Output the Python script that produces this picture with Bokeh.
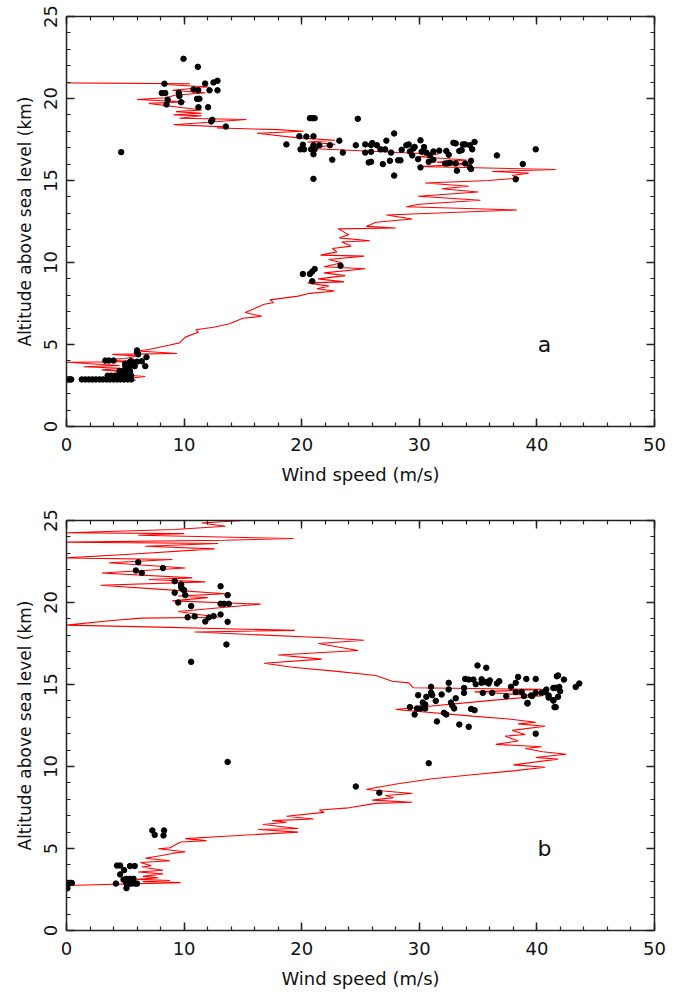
from bokeh.plotting import figure
from bokeh.layouts import column
from bokeh.models import LinearAxis, SingleIntervalTicker, Range1d, CustomJSTickFormatter
from bokeh.core.properties import value
from bokeh.embed import file_html
from bokeh.resources import INLINE

# ---------------- data ----------------
x_label = "Wind speed (m/s)"
y_label = "Altitude above sea level (km)"
panel_tags = ["a", "b"]

# panel a: sounding profile (wind speed m/s, altitude km)
a_line_speed = [2.2, 5.9, 4.8, 6.7, 3.6, 5.4, 3.0, 4.6, 1.45, 4.5, 0.0, 5.5, 3.2, 5.0, 6.0, 3.9, 9.4, 6.1, 7.0, 8.7,
                9.6, 10.1, 11.2, 11.0, 12.5, 13.8, 15.0, 16.6, 15.2, 16.0, 16.8, 17.6, 17.3, 19.7, 20.7, 22.8, 21.3, 22.3, 20.5, 23.6,
                21.4, 23.7, 21.9, 25.4, 21.9, 23.4, 22.3, 25.3, 21.6, 23.0, 22.6, 24.2, 23.4, 25.8, 23.2, 24.0, 23.1, 28.0, 25.5, 26.3,
                29.4, 27.2, 38.3, 28.9, 30.0, 35.2, 29.9, 35.0, 31.9, 34.2, 30.5, 35.9, 38.5, 37.9, 39.3, 36.2, 41.6, 29.9, 34.5, 31.5,
                34.0, 30.0, 31.6, 20.7, 22.85, 20.5, 22.85, 19.7, 16.2, 20.15, 18.0, 12.8, 13.5, 9.1, 15.3, 9.6, 11.5, 9.1, 11.5, 9.3,
                11.5, 9.2, 7.0, 10.1, 6.0, 8.5, 9.2, 11.8, 9.0, 12.1, 8.4, 10.5, 0.0, 0.0]
a_line_alt = [2.82, 2.82, 2.9, 3.05, 3.2, 3.33, 3.45, 3.55, 3.64, 3.72, 3.92, 3.95, 4.08, 4.15, 4.3, 4.4, 4.45, 4.6, 4.7, 4.95,
              5.1, 5.45, 5.75, 5.9, 6.05, 6.25, 6.6, 6.72, 6.95, 7.2, 7.45, 7.55, 7.72, 7.95, 8.12, 8.26, 8.4, 8.56, 8.76, 8.82,
              9.0, 9.2, 9.37, 9.62, 9.74, 9.98, 10.18, 10.39, 10.45, 10.65, 10.85, 11.0, 11.25, 11.33, 11.5, 11.7, 12.05, 12.1, 12.2, 12.45,
              12.65, 12.9, 13.2, 13.4, 13.55, 13.8, 14.04, 14.3, 14.5, 14.65, 14.85, 15.0, 15.15, 15.3, 15.45, 15.55, 15.67, 15.85, 16.0, 16.12,
              16.25, 16.45, 16.6, 16.95, 17.2, 17.35, 17.45, 17.6, 17.88, 18.0, 18.1, 18.2, 18.27, 18.4, 18.72, 18.8, 18.95, 19.0, 19.1, 19.2,
              19.3, 19.5, 19.7, 19.8, 19.94, 20.05, 20.2, 20.35, 20.5, 20.7, 20.85, 20.9, 20.95, 24.2]

# panel a: dots
a_dot_speed = [9.95, 11.17, 8.33, 11.79, 12.5, 12.84, 8.1, 8.4, 10.8, 11.2, 12.16, 12.84, 9.55, 9.6, 11.1, 11.3, 8.6, 9.75, 11.22, 12.04,
               8.5, 12.4, 12.3, 13.55, 4.65,
               18.7, 19.8, 20.1, 19.9, 20.2, 20.7, 20.9, 21.1, 20.4, 21.0, 21.0, 20.8, 21.1, 21.0, 21.5, 21.0, 22.4, 22.6, 23.2, 24.77,
               23.5, 24.6, 25.4, 26.0, 25.9, 26.4, 25.4, 25.9, 25.7, 25.9, 26.9, 26.7, 27.1, 27.2, 27.6, 27.5, 27.86, 27.86, 28.2, 28.4,
               28.5, 28.9, 29.1, 29.2, 29.4, 29.5, 29.6, 29.9, 30.1, 30.1, 30.2, 30.4, 30.6, 30.8, 30.9, 31.2, 31.2, 31.7, 32.2, 32.4,
               32.3, 32.5, 32.6, 32.9, 33.1, 33.1, 33.2, 33.4, 33.6, 33.7, 33.9, 33.9, 34.3, 34.5, 34.4, 34.3, 34.4, 34.7, 36.6, 38.2,
               38.8, 39.9,
               20.1, 20.7, 20.9, 21.1, 20.9, 23.3,
               0.0, 0.15, 0.3, 0.4, 1.3, 1.6, 1.9, 2.2, 2.5, 2.8, 3.1, 3.4, 3.7, 4.0, 4.3, 4.6, 4.9, 5.2, 5.5,
               3.5, 3.8, 4.1, 4.4, 4.7, 5.0, 5.3, 5.5, 4.5, 4.8, 5.1, 5.4, 5.0, 5.4, 5.8, 6.7,
               3.3, 3.6, 4.0, 5.4, 5.7, 6.0, 6.4, 6.8, 6.0, 6.0, 6.1, 5.0, 5.5]
a_dot_alt = [22.42, 21.93, 20.9, 20.91, 20.98, 21.08, 20.33, 20.33, 20.55, 20.5, 20.5, 20.5, 20.35, 20.15, 19.98, 19.98, 19.93, 19.77, 19.47, 19.47,
             19.64, 18.7, 18.6, 18.29, 16.73,
             17.2, 17.7, 17.18, 16.9, 16.9, 18.8, 18.8, 18.8, 17.68, 17.7, 17.15, 16.9, 16.9, 16.6, 17.15, 15.1, 17.15, 16.27, 17.43, 18.76,
             16.7, 17.15, 17.2, 17.28, 17.17, 17.15, 16.7, 16.75, 16.1, 16.14, 16.0, 16.9, 16.9, 17.43, 16.7, 16.2, 15.3, 17.87, 16.23, 16.23,
             16.87, 17.15, 17.2, 16.77, 16.53, 16.95, 17.05, 16.3, 17.45, 15.8, 16.75, 17.04, 16.7, 16.14, 16.53, 16.77, 16.26, 16.82, 16.04, 16.04,
             16.8, 16.57, 16.08, 17.3, 17.26, 16.04, 15.6, 16.8, 16.85, 17.2, 17.2, 16.04, 17.15, 16.9, 16.2, 15.8, 15.7, 17.35, 16.53, 15.07,
             16.0, 16.9,
             9.3, 9.3, 8.86, 9.6, 9.45, 9.8,
             2.87, 2.87, 2.87, 2.87, 2.87, 2.87, 2.87, 2.87, 2.87, 2.87, 2.87, 2.87, 2.87, 2.87, 2.87, 2.87, 2.87, 2.87, 2.87,
             3.1, 3.1, 3.1, 3.1, 3.1, 3.1, 3.1, 3.1, 3.38, 3.38, 3.38, 3.38, 3.68, 3.68, 3.68, 3.68,
             4.02, 4.02, 4.02, 3.95, 3.9, 3.95, 3.98, 4.23, 4.5, 4.64, 4.4, 3.84, 3.98]

# panel b: sounding profile
b_line_speed = [0.0, 9.7, 6.5, 8.8, 6.0, 7.8, 6.5, 8.2, 6.1, 8.2, 6.4, 7.2, 6.3, 8.8, 6.7, 8.1, 9.0, 10.1, 7.8, 8.8,
                9.7, 11.9, 10.1, 13.5, 19.7, 16.3, 19.7, 16.7, 18.7, 17.5, 21.0, 18.7, 21.9, 21.5, 24.0, 26.3, 29.4, 26.0, 27.8, 27.1,
                29.4, 25.5, 26.2, 28.2, 31.1, 34.5, 38.2, 40.7, 38.0, 41.8, 39.9, 42.5, 40.5, 39.0, 40.4, 36.5, 38.4, 37.3, 39.0, 37.9,
                40.7, 38.4, 39.9, 37.6, 34.5, 28.0, 29.0, 36.4, 40.4, 34.7, 40.4, 29.5, 29.1, 27.7, 26.3, 23.0, 19.2, 16.8, 21.7, 18.0,
                24.8, 21.4, 25.3, 22.0, 10.9, 19.4, 7.8, 0.0, 3.85, 6.4, 12.9, 9.5, 16.5, 9.0, 12.0, 9.5, 13.5, 8.1, 2.9, 11.8,
                7.0, 10.7, 3.0, 10.1, 3.6, 9.0, 0.0, 5.0, 12.6, 6.7, 12.9, 0.0, 13.5, 19.3, 6.1, 10.0, 0.0, 9.2, 13.5, 11.5,
                15.0]
b_line_alt = [2.74, 2.92, 2.98, 3.05, 3.12, 3.22, 3.3, 3.45, 3.57, 3.67, 3.87, 3.95, 4.15, 4.25, 4.41, 4.57, 4.7, 4.8, 4.98, 5.05,
              5.4, 5.48, 5.6, 5.75, 6.0, 6.16, 6.22, 6.46, 6.6, 6.7, 6.8, 6.97, 7.2, 7.35, 7.48, 7.75, 7.82, 7.95, 8.1, 8.23,
              8.35, 8.6, 8.7, 8.95, 9.25, 9.5, 9.75, 9.95, 10.1, 10.45, 10.55, 10.75, 10.9, 11.1, 11.2, 11.35, 11.55, 11.85, 11.95, 12.2,
              12.45, 12.6, 12.7, 12.9, 13.07, 13.48, 13.55, 14.05, 14.3, 14.55, 14.7, 14.8, 15.1, 15.2, 15.55, 15.8, 16.05, 16.3, 16.55, 16.8,
              17.07, 17.5, 17.7, 17.85, 18.2, 18.3, 18.5, 18.62, 18.9, 19.05, 19.1, 19.45, 19.9, 20.1, 20.3, 20.4, 20.53, 20.8, 21.05, 21.26,
              21.4, 21.5, 21.8, 22.1, 22.42, 22.62, 22.72, 22.93, 23.27, 23.43, 23.6, 23.68, 23.8, 23.9, 24.1, 24.2, 24.25, 24.45, 24.65, 24.85,
              25.0]

# panel b: dots
b_dot_speed = [0.0, 0.15, 0.3, 0.45, 0.08, 4.2, 4.3, 4.56, 4.9, 4.56, 5.1, 5.4, 5.7, 5.1, 5.3, 5.5, 5.8, 6.0, 5.1, 5.4,
               5.8, 5.5, 4.85,
               7.3, 7.5, 8.3, 8.25, 13.7, 24.6, 26.6, 30.8,
               34.95, 35.7, 29.2, 29.6, 29.8, 30.1, 30.5, 30.5, 30.3, 29.9, 30.6, 31.0, 31.1, 31.0, 31.4, 31.5, 31.9, 32.1, 32.3, 32.5,
               32.5, 32.7, 32.8, 32.96, 33.1, 33.4, 34.2, 33.8, 33.8, 33.9, 34.2, 34.4, 34.7, 34.6, 34.8, 35.3, 35.3, 35.4, 35.6, 35.9,
               36.0, 36.2, 36.6, 36.8, 37.4, 37.8, 38.2, 38.2, 38.4, 38.7, 38.9, 39.1, 39.2, 39.5, 39.9, 39.9, 40.4, 40.6, 40.8, 41.0,
               41.4, 41.4, 41.5, 41.7,
               41.8, 42.3, 41.9, 41.98, 41.6, 41.8, 41.6, 41.4, 43.3, 43.6, 39.2, 39.6, 39.9, 40.7, 41.0,
               6.1, 5.9, 6.4, 8.2, 9.2, 9.75, 9.75, 9.9, 10.0, 9.2, 10.1, 9.5, 10.6, 13.1, 13.7, 13.1, 13.4, 13.8, 10.3, 10.9,
               11.8, 12.1, 12.5, 13.1, 13.7, 13.6, 10.6]
b_dot_alt = [2.9, 2.9, 2.9, 2.9, 2.58, 2.86, 3.96, 3.96, 3.68, 3.42, 3.15, 3.15, 3.15, 2.86, 2.86, 2.86, 2.86, 2.86, 2.58, 3.93,
             3.93, 3.0, 3.1,
             6.1, 5.83, 6.1, 5.8, 10.28, 8.78, 8.4, 10.2,
             16.16, 16.02, 13.62, 13.17, 13.54, 13.54, 13.54, 13.78, 13.9, 14.35, 14.25, 14.5, 14.35, 14.86, 14.0, 12.75, 14.39, 13.27, 13.17, 15.1,
             14.7, 13.9, 13.72, 13.54, 14.16, 12.56, 12.42, 14.79, 14.49, 15.34, 15.3, 13.51, 13.43, 15.3, 15.02, 15.32, 15.1, 14.49, 15.15, 15.06,
             15.25, 14.49, 15.06, 15.2, 14.29, 14.86, 14.53, 15.1, 15.46, 14.55, 14.3, 15.34, 13.84, 14.33, 15.34, 12.0, 14.49, 14.53, 14.69, 14.33,
             14.79, 14.04, 13.62, 15.5,
             15.55, 15.3, 14.85, 14.59, 14.8, 14.25, 13.62, 14.02, 14.85, 15.06, 13.88, 14.3, 14.5, 14.57, 14.2,
             22.46, 21.95, 21.8, 22.1, 21.3, 21.1, 20.93, 20.8, 20.75, 20.6, 20.45, 20.0, 19.78, 20.99, 20.45, 19.92, 19.92, 19.92, 19.1, 19.15,
             18.84, 19.09, 19.17, 19.27, 18.82, 17.44, 16.38]

# ---------------- drawing ----------------
FONT = "DejaVu Sans"
AXIS_COLOR = "#222222"


def style_axis(ax, show_labels):
    ax.axis_line_color = AXIS_COLOR
    ax.axis_line_width = 1.5
    ax.major_tick_line_color = AXIS_COLOR
    ax.major_tick_line_width = 1.5
    ax.minor_tick_line_color = AXIS_COLOR
    ax.minor_tick_line_width = 1.2
    ax.major_tick_in = 8
    ax.major_tick_out = 0
    ax.minor_tick_in = 4
    ax.minor_tick_out = 0
    ax.major_label_text_font = FONT
    ax.major_label_text_color = "#111111"
    ax.axis_label_text_font = FONT
    ax.axis_label_text_font_style = "normal"
    ax.axis_label_text_color = "#111111"
    if show_labels:
        ax.major_label_text_font_size = "18px"
        ax.major_label_standoff = 11
    else:
        ax.formatter = CustomJSTickFormatter(code="return ''")
        ax.major_label_text_font_size = "1px"
        ax.major_label_standoff = 0


def make_panel(line_s, line_a, dot_s, dot_a, tag, height, border_top, border_bottom):
    p = figure(width=678, height=height, x_range=Range1d(0, 50), y_range=Range1d(0, 25),
               x_axis_type=None, y_axis_type=None, output_backend="svg", toolbar_location=None,
               min_border_left=66, min_border_right=24, min_border_top=border_top,
               min_border_bottom=border_bottom)
    p.outline_line_color = None
    p.background_fill_color = "white"
    p.border_fill_color = "white"

    for loc in ("below", "above", "left", "right"):
        if loc in ("below", "above"):
            ticker = SingleIntervalTicker(interval=10, num_minor_ticks=5)
        else:
            ticker = SingleIntervalTicker(interval=5, num_minor_ticks=5)
        ax = LinearAxis(ticker=ticker)
        style_axis(ax, loc in ("below", "left"))
        if loc == "below":
            ax.axis_label = x_label
            ax.axis_label_text_font_size = "18px"
            ax.axis_label_standoff = 10
        if loc == "left":
            ax.axis_label = y_label
            ax.axis_label_text_font_size = "17px"
            ax.axis_label_standoff = 6
            ax.major_label_orientation = "vertical"
            ax.major_label_standoff = 10
        p.add_layout(ax, loc)

    p.line(x=line_s, y=line_a, line_color="#ff0000", line_width=1.1)
    p.scatter(x=dot_s, y=dot_a, size=5.5, fill_color="black", line_color="black")
    p.text(x=[40.65], y=[5.0], text=[tag], text_font=value(FONT), text_font_size="22px",
           text_align="center", text_baseline="alphabetic", text_color="#111111")
    return p


pa = make_panel(a_line_speed, a_line_alt, a_dot_speed, a_dot_alt, panel_tags[0], 503, 16, 77)
pb = make_panel(b_line_speed, b_line_alt, b_dot_speed, b_dot_alt, panel_tags[1], 489, 17, 62)

layout = column(pa, pb, spacing=0)
open("out.html", "w").write(file_html(layout, INLINE))
